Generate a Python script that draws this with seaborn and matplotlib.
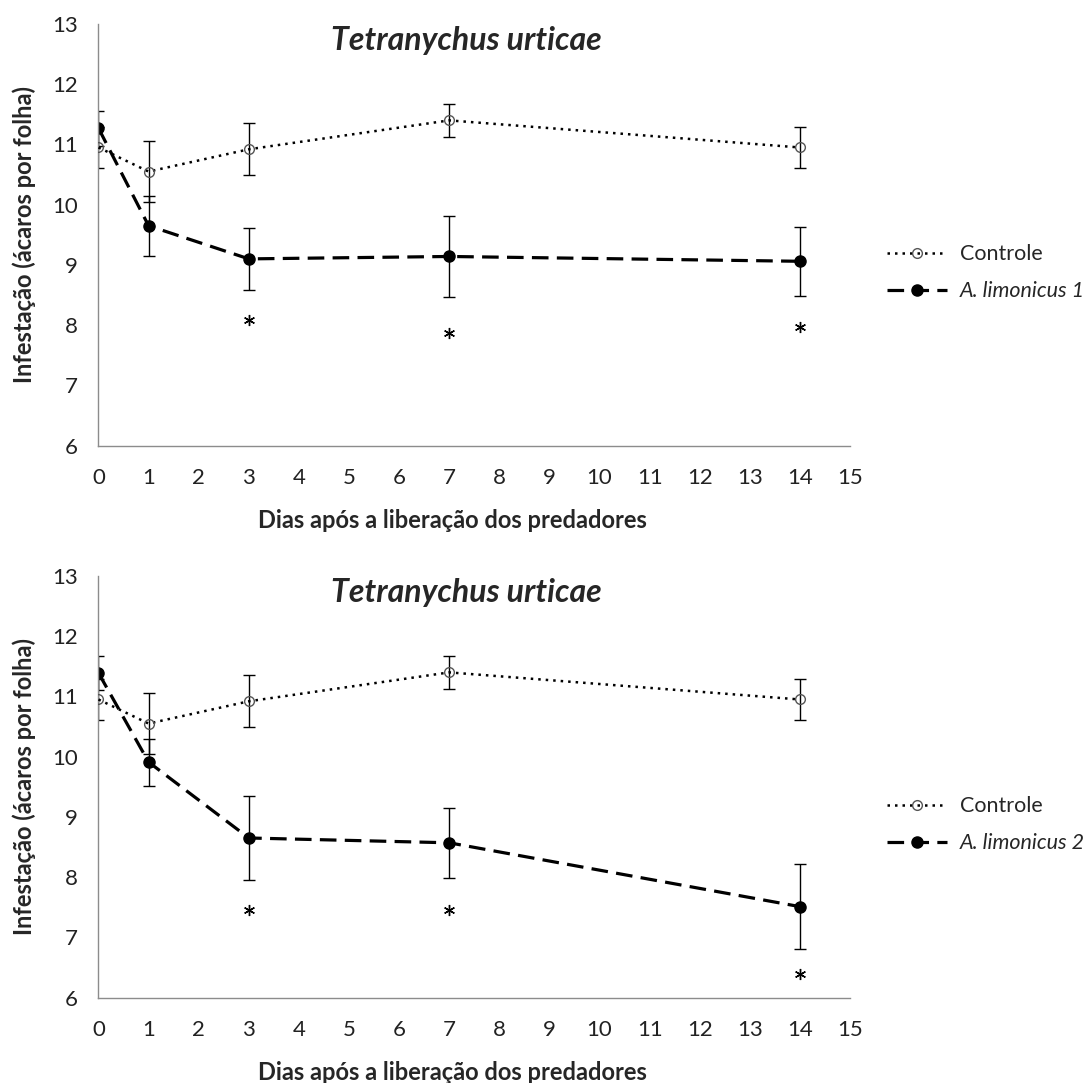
import numpy as np
import matplotlib
matplotlib.use('Agg')
import matplotlib.pyplot as plt
import seaborn as sns

# dados
dias = [0, 1, 3, 7, 14]
controle = [10.95, 10.55, 10.92, 11.40, 10.95]
controle_ep = [0.34, 0.50, 0.43, 0.28, 0.34]

limonicus1 = [11.27, 9.65, 9.10, 9.14, 9.06]
limonicus1_ep = [0.29, 0.50, 0.51, 0.67, 0.57]
ast1_dias = [3, 7, 14]
ast1_y = [8.09, 7.87, 7.97]

limonicus2 = [11.39, 9.91, 8.65, 8.57, 7.51]
limonicus2_ep = [0.29, 0.39, 0.69, 0.58, 0.71]
ast2_dias = [3, 7, 14]
ast2_y = [7.45, 7.45, 6.39]

sns.set_style('white')
plt.rcParams['font.family'] = ['Lato', 'DejaVu Sans']

cinza = '#8c8c8c'
fig = plt.figure(figsize=(10.92, 10.83), dpi=100)
ax1 = fig.add_axes([0.0902, 0.5886, 0.6882, 0.3892])
ax2 = fig.add_axes([0.0902, 0.0789, 0.6882, 0.3892])

paineis = [
    (ax1, limonicus1, limonicus1_ep, 'A. limonicus 1', ast1_dias, ast1_y),
    (ax2, limonicus2, limonicus2_ep, 'A. limonicus 2', ast2_dias, ast2_y),
]

for ax, media, ep, nome, ast_x, ast_y in paineis:
    ax.errorbar(dias, controle, yerr=controle_ep, fmt='none', ecolor='black',
                elinewidth=1, capsize=4.3, capthick=1, zorder=1)
    ax.errorbar(dias, media, yerr=ep, fmt='none', ecolor='black',
                elinewidth=1, capsize=4.3, capthick=1, zorder=1)
    sns.lineplot(x=dias, y=controle, ax=ax, color='black', linewidth=1.8,
                 linestyle=(0, (1, 2.0)), marker='o', markersize=7,
                 markerfacecolor='none', markeredgecolor='#555555',
                 markeredgewidth=1, label='Controle', errorbar=None, zorder=3)
    sns.lineplot(x=dias, y=media, ax=ax, color='black', linewidth=2.3,
                 linestyle=(0, (5.2, 2.6)), marker='o', markersize=8,
                 markerfacecolor='black', markeredgecolor='black',
                 markeredgewidth=1, label=nome, errorbar=None, zorder=2)
    ax.plot(ast_x, ast_y, linestyle='none', marker=(6, 2, 0), markersize=8,
            markeredgewidth=1.0, color='black')

    ax.set_xlim(0, 15)
    ax.set_ylim(6, 13)
    ax.set_xticks(range(0, 16))
    ax.set_yticks(range(6, 14))
    for s in ['top', 'right']:
        ax.spines[s].set_visible(False)
    for s in ['left', 'bottom']:
        ax.spines[s].set_color(cinza)
        ax.spines[s].set_linewidth(1)
    ax.tick_params(axis='both', direction='out', length=6, width=1,
                   color=cinza, labelsize=16, labelcolor='#222222')
    ax.tick_params(axis='x', pad=10)
    ax.tick_params(axis='y', pad=9)
    ax.set_xlabel('Dias após a liberação dos predadores', fontsize=17,
                  fontweight='bold', va='center')
    ax.xaxis.set_label_coords(0.471, -0.177)
    ax.set_ylabel('Infestação (ácaros por folha)', fontsize=17,
                  fontweight='bold', va='center')
    ax.yaxis.set_label_coords(-0.099, 0.5)
    ax.text(0.489, 0.96, 'Tetranychus urticae', transform=ax.transAxes,
            ha='center', va='center', fontsize=23, fontweight='bold',
            fontstyle='italic')
    leg = ax.legend(loc='center left', bbox_to_anchor=(1.049, 0.41),
                    frameon=False, fontsize=15.5, handlelength=2.8,
                    handletextpad=0.6, labelspacing=0.8, borderpad=0,
                    borderaxespad=0)
    leg.get_texts()[1].set_fontstyle('italic')

fig.savefig('out.png', dpi=100)
